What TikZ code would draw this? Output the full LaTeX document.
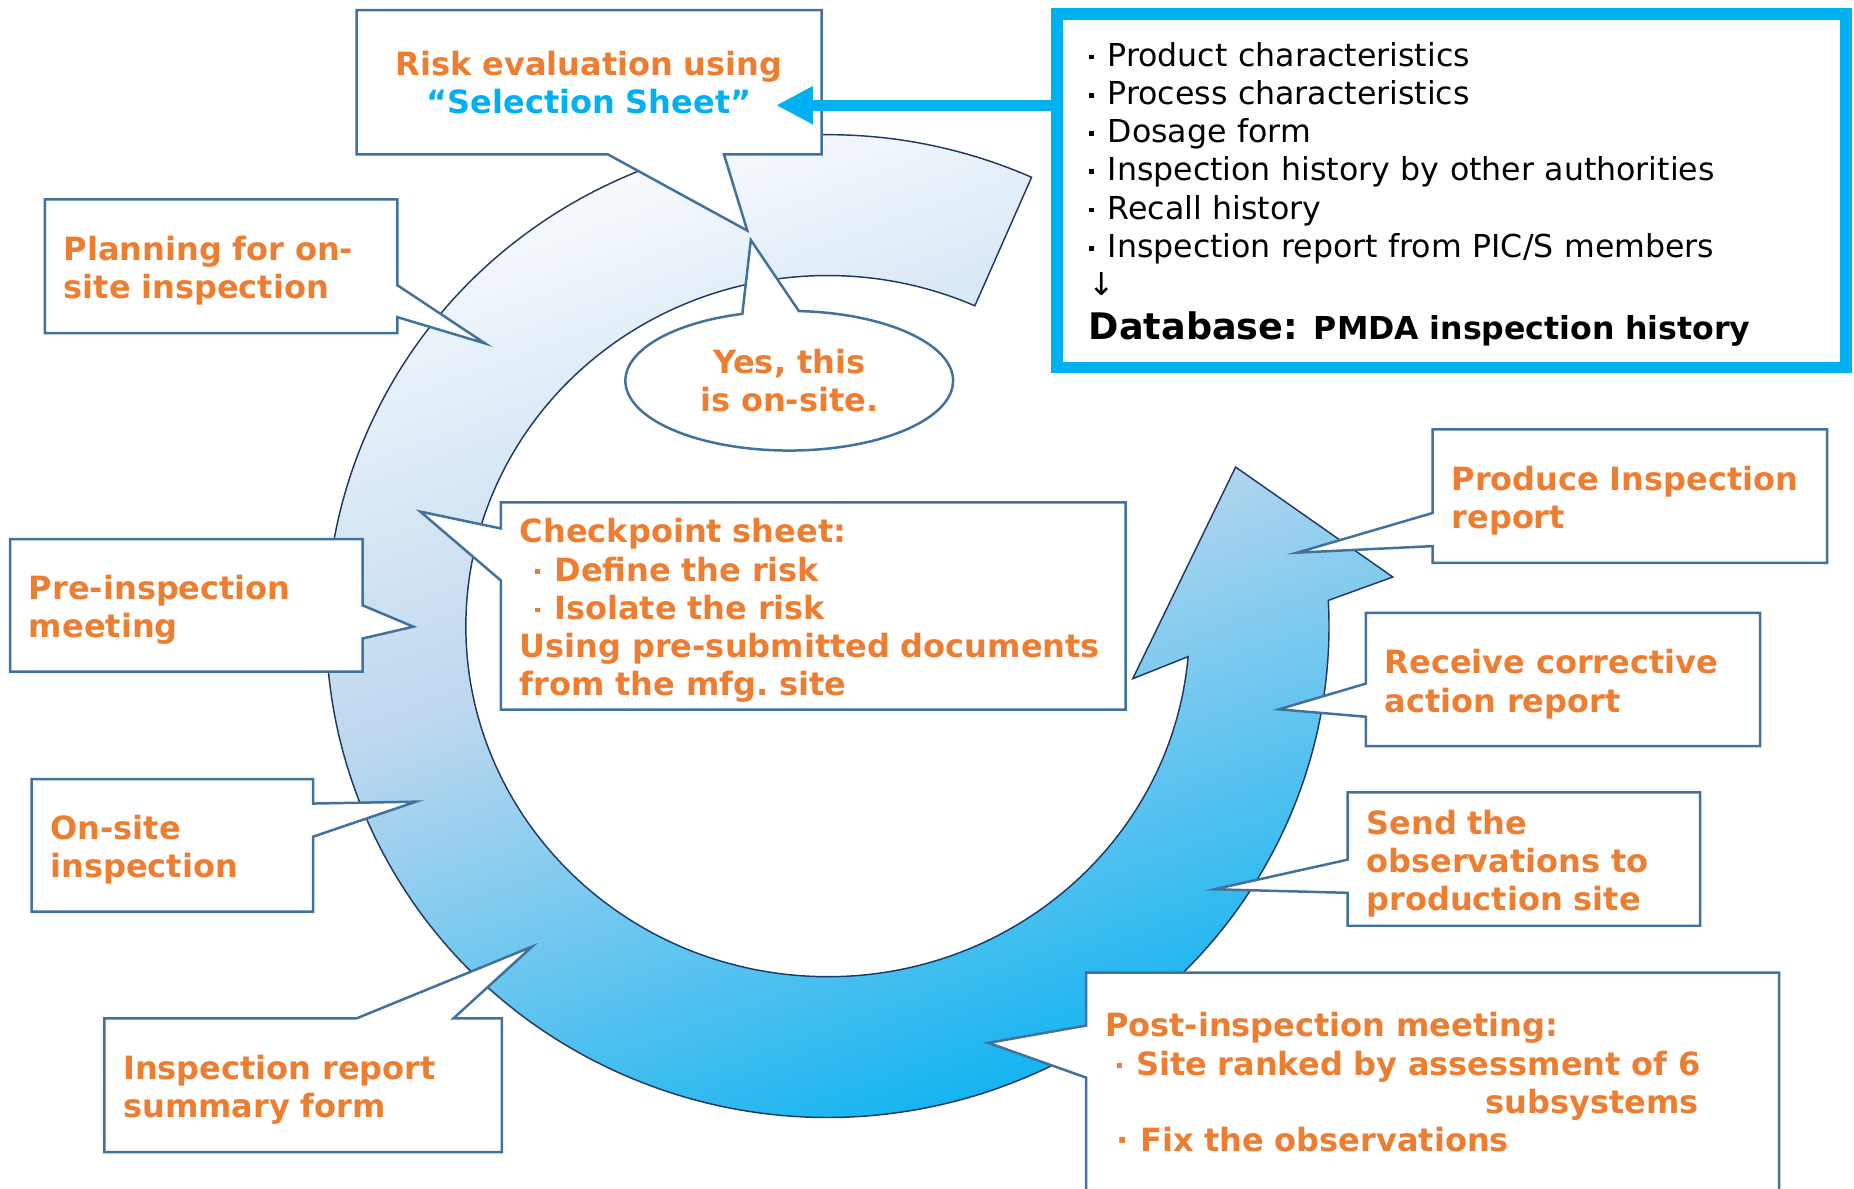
\documentclass[tikz,border=0pt]{standalone}
\usepackage{fontspec}
\setmainfont{DejaVu Sans}
\usepackage{xcolor}
\definecolor{cycOrange}{RGB}{237,125,49}
\definecolor{cycCyan}{RGB}{0,176,240}
\definecolor{boxBlue}{RGB}{65,113,156}
\definecolor{ringNavy}{RGB}{31,56,100}
\definecolor{ringPale}{RGB}{189,215,238}
\usepackage{tikz}
\usetikzlibrary{positioning,shapes.callouts,arrows.meta,calc}
\pgfdeclareverticalshading{ringshade}{100bp}{color(0bp)=(cycCyan); color(25bp)=(cycCyan); color(52bp)=(ringPale); color(75bp)=(white); color(100bp)=(white)}
\newcommand{\cycfont}{\bfseries\fontsize{7.7}{9.2}\selectfont}
\newcommand{\listfont}{\fontsize{7.6}{9.2}\selectfont}
\newcommand{\sqdot}{\raisebox{0.22em}{\rule{0.15em}{0.15em}}\hspace{0.45em}}
\tikzset{
  callbox/.style={rectangle callout, draw=boxBlue, line width=0.6pt, fill=white,
    inner xsep=0.16cm, inner ysep=0pt, text=cycOrange, font=\cycfont, align=left},
  callstep/.style={callbox, execute at begin node={\rule{0pt}{8.1pt}}},
  ring/.style={draw=ringNavy, line width=0.35pt, shading=ringshade, shading angle=20},
  selarrow/.style={draw=cycCyan, line width=2.6pt, -{Triangle[length=0.31cm, width=0.30cm]}}
}

\begin{document}
\begin{tikzpicture}[x=0.01cm, y=-0.01cm]
\useasboundingbox (0,0) rectangle (1568,1005);

% the cycle
\coordinate (ringc) at (700,529.5);
\shadedraw[ring] ($(ringc)+(-66:424 and 415.5)$)
  arc[start angle=-66, end angle=-363, x radius=424, y radius=415.5]
  -- (1178,488) -- (1045,395) -- (958,574)
  -- ($(ringc)+(5:306 and 296.5)$)
  arc[start angle=-355, end angle=-66, x radius=306, y radius=296.5] -- cycle;

% steps round the cycle
\node[callbox, align=center, minimum width=3.93cm, minimum height=1.22cm, text width=3.6cm,
  callout absolute pointer={(632,195)}, callout pointer width=0.98cm] (risk) at (498.2,69.6)
  {Risk evaluation using\\\textcolor{cycCyan}{“Selection Sheet”}};
\node[callstep, minimum width=2.98cm, minimum height=1.13cm, text width=2.66cm,
  callout absolute pointer={(410.2,290.4)}, callout pointer width=0.27cm] (plan) at (187,225.2)
  {Planning for on-\\site inspection};
\node[callstep, minimum width=2.98cm, minimum height=1.12cm, text width=2.66cm,
  callout absolute pointer={(349.6,530)}, callout pointer width=0.28cm] (preinsp) at (157.6,512)
  {Pre-inspection\\meeting};
\node[callstep, minimum width=2.38cm, minimum height=1.12cm, text width=2.06cm,
  callout absolute pointer={(351.8,678)}, callout pointer width=0.28cm] (onsite) at (145.75,714.9)
  {On-site\\inspection};
\node[callstep, minimum width=3.36cm, minimum height=1.13cm, text width=3.04cm,
  callout absolute pointer={(450,800.6)}, callout pointer width=0.82cm] (summary) at (256.3,917.9)
  {Inspection report\\summary form};
\node[callstep, minimum width=5.28cm, minimum height=1.75cm, text width=4.96cm,
  callout absolute pointer={(355.5,432.7)}, callout pointer width=0.44cm] (checkpt) at (687.8,512.5)
  {Checkpoint sheet:\\
   \hspace*{0.13cm}\sqdot Define the risk\\
   \hspace*{0.13cm}\sqdot Isolate the risk\\
   Using pre-submitted documents\\
   from the mfg.\ site};
\node[ellipse callout, draw=boxBlue, line width=0.6pt, fill=white, minimum width=2.77cm,
  minimum height=1.18cm, inner sep=0pt, text=cycOrange, font=\cycfont, align=center,
  callout absolute pointer={(635,203)}, callout pointer arc=20] (yes) at (667.5,322)
  {Yes, this\\is on-site.};
\node[callstep, minimum width=3.335cm, minimum height=1.128cm, text width=3.015cm,
  callout absolute pointer={(1097,467.4)}, callout pointer width=0.28cm] (produce) at (1378.5,419.5)
  {Produce Inspection\\report};
\node[callstep, minimum width=3.333cm, minimum height=1.127cm, text width=3.013cm,
  callout absolute pointer={(1081.6,599.9)}, callout pointer width=0.28cm] (receive) at (1321.9,574.6)
  {Receive corrective\\action report};
\node[callstep, minimum width=2.98cm, minimum height=1.128cm, text width=2.66cm,
  callout absolute pointer={(1027,752.1)}, callout pointer width=0.28cm] (sendobs) at (1288.8,726.5)
  {Send the\\observations to\\production site};
\node[callbox, minimum width=5.859cm, minimum height=1.854cm, text width=5.539cm,
  callout absolute pointer={(836,882)}, callout pointer width=0.44cm] (postmeet) at (1211.65,915.3)
  {Post-inspection meeting:\\
   \hspace*{0.1cm}\sqdot Site ranked by assessment of 6\\
   \hspace*{\fill}subsystems\rule{0.52cm}{0pt}\\
   \hspace*{0.1cm}∙\hspace{0.35em}Fix the observations};

% inputs to the selection sheet
\node[draw=cycCyan, line width=2.8pt, minimum width=6.67cm, minimum height=2.99cm,
  inner xsep=0.27cm, text width=6.13cm, align=left, font=\listfont] (dbbox) at (1227.5,161.2)
  {\rule{0pt}{7.6pt}\sqdot Product characteristics\\
   \sqdot Process characteristics\\
   \sqdot Dosage form\\
   \sqdot Inspection history by other authorities\\
   \sqdot Recall history\\
   \sqdot Inspection report from PIC/S members\\
   ↓\\[1.4pt]
   {\bfseries\fontsize{8.8}{10}\selectfont Database:} \textbf{PMDA inspection history}};
\coordinate (selTip) at (656.4,89);
\draw[selarrow] (dbbox.west |- selTip) -- (selTip);
\end{tikzpicture}
\end{document}
